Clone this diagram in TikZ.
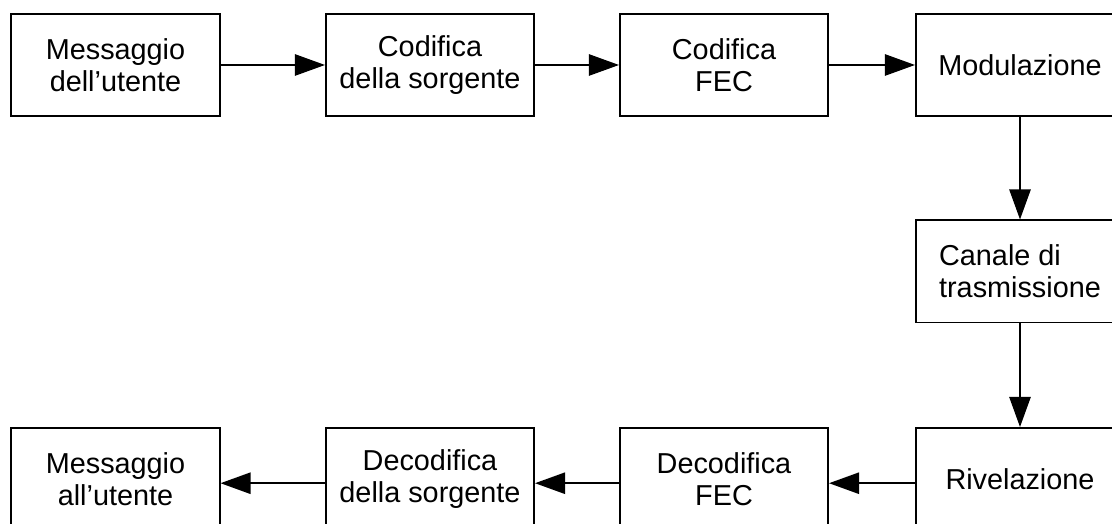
\documentclass[tikz,border=0pt]{standalone}
\usepackage{fontspec}
\setmainfont{Liberation Sans}
\usetikzlibrary{arrows.meta}

\begin{document}
\begin{tikzpicture}[x=0.025cm,y=0.025cm]
\tikzstyle{blocco}=[draw=black, line width=1.4pt, minimum width=5.2cm, minimum height=2.55cm, align=center, font=\fontsize{20.5}{23}\selectfont]
\tikzstyle{freccia}=[line width=1.4pt, -{Triangle[length=0.75cm,width=0.53cm]}]
\clip (0,0) rectangle (1112,524);
% catena di trasmissione
\node[blocco] (msgin) at (115.5,459) {Messaggio\\dell’utente};
\node[blocco] (codsrc) at (430,459) {Codifica\\della sorgente};
\node[blocco] (codfec) at (724,459) {Codifica\\FEC};
\node[blocco] (modul) at (1020,459) {Modulazione};
\node[blocco, align=left] (canale) at (1020,252.5) {Canale di\\trasmissione};
% catena di ricezione
\node[blocco] (rivel) at (1020,45) {Rivelazione};
\node[blocco] (decfec) at (724,45) {Decodifica\\FEC};
\node[blocco] (decsrc) at (430,45) {Decodifica\\della sorgente};
\node[blocco] (msgout) at (115.5,45) {Messaggio\\all’utente};
\draw[freccia] (msgin) -- (codsrc);
\draw[freccia] (codsrc) -- (codfec);
\draw[freccia] (codfec) -- (modul);
\draw[freccia] (modul) -- (canale);
\draw[freccia] (canale) -- (rivel);
\draw[freccia] ([yshift=-3]rivel.west) -- ([yshift=-3]decfec.east);
\draw[freccia] ([yshift=-3]decfec.west) -- ([yshift=-3]decsrc.east);
\draw[freccia] ([yshift=-3]decsrc.west) -- ([yshift=-3]msgout.east);
\end{tikzpicture}
\end{document}
